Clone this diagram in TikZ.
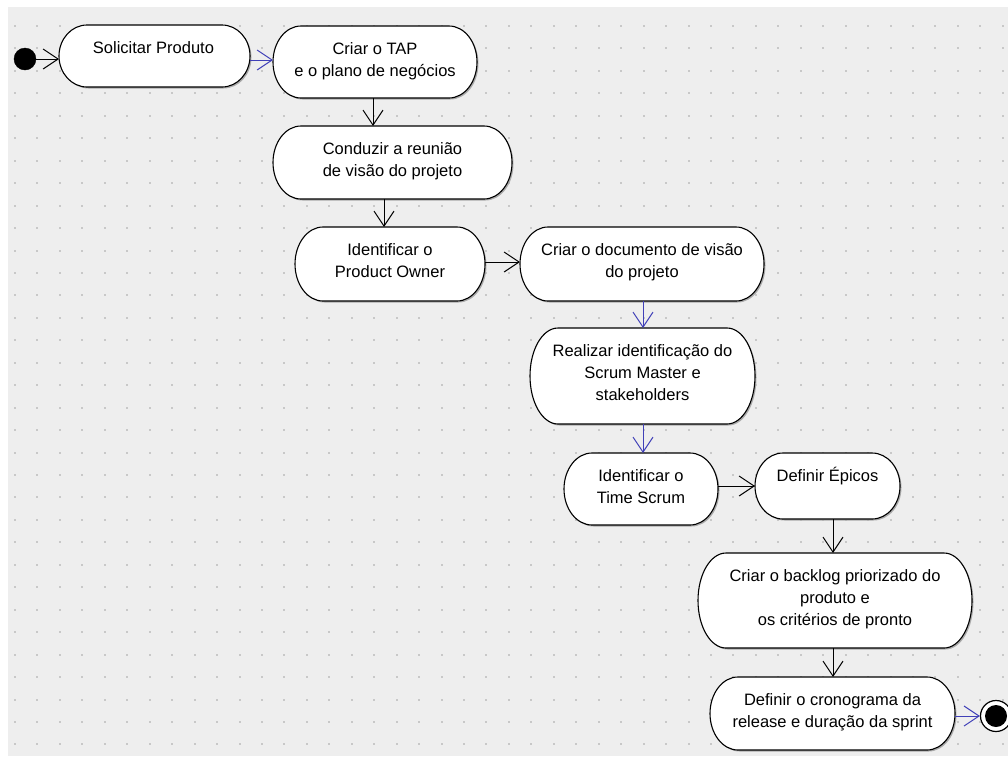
\documentclass[tikz,border=0pt]{standalone}
\usepackage{fontspec}
\setmainfont{Liberation Sans}
\usetikzlibrary{arrows.meta,calc}
\definecolor{bgc}{RGB}{238,238,238}
\definecolor{dotc}{RGB}{200,200,200}
\definecolor{flowblue}{RGB}{64,64,184}
\definecolor{shadowc}{RGB}{170,170,170}
\newcommand{\actshape}[1]{%
  \fill[shadowc] let \p1=(#1.north west), \p2=(#1.south east), \n1={(\y1-\y2)/2} in
    ([shift={(1.5pt,-1.5pt)}]\x1+28pt,\y1) -- ([shift={(1.5pt,-1.5pt)}]\x2-28pt,\y1)
    arc[start angle=90, end angle=-90, x radius=28pt, y radius=\n1]
    -- ([shift={(1.5pt,-1.5pt)}]\x1+28pt,\y2)
    arc[start angle=270, end angle=90, x radius=28pt, y radius=\n1] -- cycle;
  \filldraw[fill=white, draw=black, line width=1.1pt] let \p1=(#1.north west), \p2=(#1.south east), \n1={(\y1-\y2)/2} in
    (\x1+28pt,\y1) -- (\x2-28pt,\y1)
    arc[start angle=90, end angle=-90, x radius=28pt, y radius=\n1]
    -- (\x1+28pt,\y2)
    arc[start angle=270, end angle=90, x radius=28pt, y radius=\n1] -- cycle;
}
\begin{document}
\begin{tikzpicture}[x=1pt,y=1pt,
  actbox/.style={shape=rectangle, draw=none, inner sep=0pt, outer sep=0pt},
  acttext/.style={anchor=north, inner sep=0pt, align=center, font=\fontsize{16.5}{22}\selectfont},
  flowk/.style={draw=black, line width=1pt, -{Straight Barb[length=15pt, width=20pt, line width=1pt]}},
  flowb/.style={draw=flowblue, line width=1pt, -{Straight Barb[length=15pt, width=20pt, line width=1pt]}},
]
\useasboundingbox (0,0) rectangle (1008,-756);
\fill[white] (0,0) rectangle (1008,-756);
\fill[bgc] (8,-7) rectangle (1008,-756);
\foreach \i in {0,...,44}{
  \foreach \j in {0,...,32}{
    \fill[dotc] ({14+22.45*\i},{-25-22.45*\j}) rectangle +(2,-2);
  }
}
% activity boxes
\node[actbox, minimum width=191pt, minimum height=62pt] (n1) at (154.5,-56) {};
\node[actbox, minimum width=204pt, minimum height=72pt] (n2) at (375,-62) {};
\node[actbox, minimum width=239pt, minimum height=73pt] (n3) at (392.5,-162.5) {};
\node[actbox, minimum width=190pt, minimum height=74pt] (n4) at (390,-264) {};
\node[actbox, minimum width=244pt, minimum height=74pt] (n5) at (642,-264) {};
\node[actbox, minimum width=225pt, minimum height=96pt] (n6) at (642.5,-376) {};
\node[actbox, minimum width=154pt, minimum height=72pt] (n7) at (641,-489) {};
\node[actbox, minimum width=145pt, minimum height=66pt] (n8) at (827.5,-486) {};
\node[actbox, minimum width=274pt, minimum height=95pt] (n9) at (835,-600.5) {};
\node[actbox, minimum width=245pt, minimum height=73pt] (n10) at (832.5,-713.5) {};
\foreach \nd in {n1,n2,n3,n4,n5,n6,n7,n8,n9,n10}{\actshape{\nd}}
% texts
\node[acttext] (t1) at ($(n1.north)+(-1,-13.1)$) {\strut Solicitar Produto};
\node[acttext] (t2) at ($(n2.north)+(0,-13.1)$) {\strut Criar o TAP\\e o plano de negócios};
\node[acttext] (t3) at ($(n3.north)+(0,-13.1)$) {\strut Conduzir a reunião\\de visão do projeto};
\node[acttext] (t4) at ($(n4.north)+(0,-13.1)$) {\strut Identificar o\\Product Owner};
\node[acttext] (t5) at ($(n5.north)+(0,-13.1)$) {\strut Criar o documento de visão\\do projeto};
\node[acttext] (t6) at ($(n6.north)+(0,-13.1)$) {\strut Realizar identificação do\\Scrum Master e\\stakeholders};
\node[acttext] (t7) at ($(n7.north)+(0,-13.1)$) {\strut Identificar o\\Time Scrum};
\node[acttext] (t8) at ($(n8.north)+(0,-13.1)$) {\strut Definir Épicos};
\node[acttext] (t9) at ($(n9.north)+(0,-13.1)$) {\strut Criar o backlog priorizado do\\produto e\\ os critérios de pronto};
\node[acttext] (t10) at ($(n10.north)+(0,-13.1)$) {\strut Definir o cronograma da\\release e duração da sprint};
% initial and final states
\node[circle, fill=black, draw=black, minimum size=22pt, inner sep=0pt] (init) at (25,-59) {};
\node[circle, fill=white, draw=black, line width=1.2pt, minimum size=31pt, inner sep=0pt] (fin) at (996,-716) {};
\node[circle, fill=black, minimum size=22pt, inner sep=0pt] (fincore) at (fin.center) {};
% connectors
\draw[flowk] (init.east) -- (init.east -| n1.west);
\draw[flowb] (n1.east |- 0,-60) -- (n2.west |- 0,-60);
\draw[flowk] (n2.south -| 373,0) -- (n3.north -| 373,0);
\draw[flowk] (n3.south -| 384,0) -- (n4.north -| 384,0);
\draw[flowk] (n4.east |- 0,-262) -- (n5.west |- 0,-262);
\draw[flowb] (n5.south -| 643,0) -- (n6.north -| 643,0);
\draw[flowb] (n6.south -| 643,0) -- (n7.north -| 643,0);
\draw[flowk] (n7.east |- 0,-486) -- (n8.west |- 0,-486);
\draw[flowk] (n8.south -| 833,0) -- (n9.north -| 833,0);
\draw[flowk] (n9.south -| 833,0) -- (n10.north -| 833,0);
\draw[flowb] (n10.east |- fin.west) -- (fin.west);
\end{tikzpicture}
\end{document}
